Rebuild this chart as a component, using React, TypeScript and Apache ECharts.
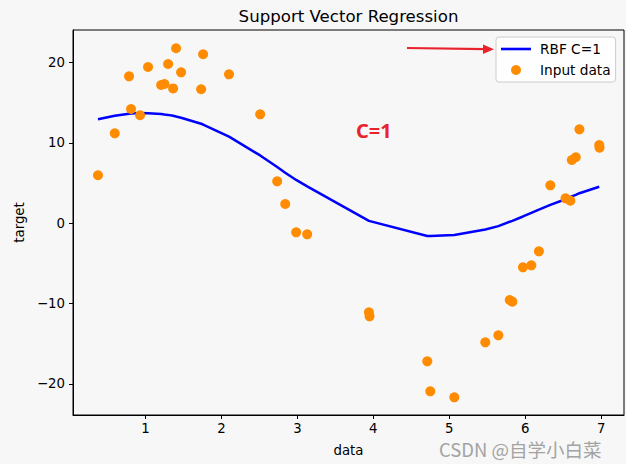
import React, { useEffect, useRef } from 'react';
import * as echarts from 'echarts';

const xData = [
  0.375, 0.596, 0.784, 0.81, 0.929, 1.034, 1.206, 1.25, 1.298, 1.364,
  1.403, 1.469, 1.733, 1.759, 2.1, 2.51, 2.734, 2.84, 2.984, 3.129,
  3.942, 3.95, 4.71, 4.75, 5.066, 5.474, 5.646, 5.796, 5.83, 5.97,
  6.08, 6.18, 6.33, 6.53, 6.594, 6.613, 6.665, 6.713, 6.974, 6.978,
];
const yData = [
  5.98, 11.2, 18.3, 14.23, 13.45, 19.46, 17.22, 17.35, 19.84, 16.8,
  21.8, 18.8, 16.69, 21.05, 18.55, 13.57, 5.23, 2.4, -1.12, -1.37,
  -11.08, -11.58, -17.19, -20.92, -21.67, -14.82, -13.95, -9.55, -9.76, -5.48,
  -5.23, -3.49, 4.73, 3.11, 2.82, 7.88, 8.22, 11.7, 9.75, 9.42,
];
const fitData = [
  12.95, 13.4, 13.65, 13.68, 13.72, 13.7, 13.6, 13.55, 13.5, 13.4,
  13.3, 13.15, 12.4, 12.3, 10.8, 8.45, 7.0, 6.3, 5.4, 4.6,
  0.3, 0.28, -1.58, -1.58, -1.46, -0.78, -0.35, 0.2, 0.3, 0.85,
  1.3, 1.7, 2.3, 3.0, 3.25, 3.35, 3.55, 3.75, 4.55, 4.56,
];
const xTicks = [1, 2, 3, 4, 5, 6, 7];
const yTicks = [-20, -10, 0, 10, 20];

const FONT = 'DejaVu Sans';

export default function App() {
  const ref = useRef<HTMLDivElement>(null);
  useEffect(() => {
    const chart = echarts.init(ref.current!, null, { renderer: 'svg' });
    const scatter = xData.map((x, i) => [x, yData[i]]);
    const line = xData.map((x, i) => [x, fitData[i]]);
    chart.setOption({
      animation: false,
      backgroundColor: '#f7f7f7',
      grid: {
        left: 73,
        right: 2,
        top: 30,
        bottom: 49,
        show: true,
        borderColor: '#000',
        borderWidth: 1,
        backgroundColor: 'transparent',
        containLabel: false,
      },
      xAxis: {
        type: 'value',
        min: 0.046,
        max: 7.3,
        name: 'data',
        nameLocation: 'middle',
        nameGap: 29,
        nameTextStyle: { fontFamily: FONT, fontSize: 13.3, color: '#000' },
        splitLine: { show: false },
        axisLine: { show: true, onZero: false, lineStyle: { color: '#000', width: 1 } },
        axisTick: { show: true, length: 4, lineStyle: { color: '#000' }, customValues: xTicks },
        axisLabel: { fontFamily: FONT, fontSize: 13.3, color: '#000', margin: 7, customValues: xTicks },
      },
      yAxis: {
        type: 'value',
        min: -23.87,
        max: 24.07,
        name: 'target',
        nameLocation: 'middle',
        nameGap: 46,
        nameTextStyle: { fontFamily: FONT, fontSize: 13.3, color: '#000' },
        splitLine: { show: false },
        axisLine: { show: true, onZero: false, lineStyle: { color: '#000', width: 1 } },
        axisTick: { show: true, length: 4, lineStyle: { color: '#000' }, customValues: yTicks },
        axisLabel: {
          fontFamily: FONT,
          fontSize: 13.3,
          color: '#000',
          margin: 8,
          customValues: yTicks,
          formatter: (v: number) => (v < 0 ? '\u2212' + Math.abs(v) : String(v)),
        },
      },
      legend: {
        orient: 'vertical',
        left: 496,
        top: 37,
        padding: [5, 5, 5, 5],
        itemWidth: 30,
        itemHeight: 10,
        itemGap: 7,
        backgroundColor: 'rgba(255,255,255,0.8)',
        borderColor: '#cccccc',
        borderWidth: 1,
        borderRadius: 3,
        textStyle: { fontFamily: FONT, fontSize: 13.7, color: '#000', padding: [0, 0, 0, 4] },
        data: [
          { name: 'RBF C=1', icon: 'path://M0,0h30v2.6h-30z', itemStyle: { color: '#0000ff' } },
          { name: 'Input data', icon: 'circle' },
        ],
      },
      series: [
        {
          name: 'RBF C=1',
          type: 'line',
          data: line,
          symbol: 'none',
          showSymbol: false,
          lineStyle: { color: '#0000ff', width: 2.5 },
          itemStyle: { color: '#0000ff' },
          z: 2,
        },
        {
          name: 'Input data',
          type: 'scatter',
          data: scatter,
          symbol: 'circle',
          symbolSize: 10,
          itemStyle: { color: '#ff8c00', opacity: 1 },
          z: 3,
        },
      ],
      graphic: [
        {
          type: 'text',
          x: 348.5,
          y: 16,
          style: {
            text: 'Support Vector Regression',
            fontFamily: FONT,
            fontSize: 16.6,
            fill: '#000',
            textAlign: 'center',
            textVerticalAlign: 'middle',
          },
        },
        {
          type: 'text',
          x: 356,
          y: 130,
          style: {
            text: 'C=1',
            fontFamily: 'Noto Sans',
            fontWeight: 'bold',
            fontSize: 20,
            fill: '#e8232d',
            textAlign: 'left',
            textVerticalAlign: 'middle',
          },
        },
        {
          type: 'line',
          shape: { x1: 407, y1: 48, x2: 486, y2: 49.2 },
          style: { stroke: '#e8232d', lineWidth: 2.2 },
        },
        {
          type: 'polygon',
          shape: { points: [[483, 44.5], [494, 49.3], [483, 54]] },
          style: { fill: '#e8232d' },
        },
        {
          type: 'text',
          x: 439,
          y: 449,
          style: {
            text: 'CSDN @自学小白菜',
            fontFamily: 'Noto Sans CJK SC',
            fontSize: 18.5,
            fill: '#a3a3a3',
            textAlign: 'left',
            textVerticalAlign: 'middle',
          },
        },
      ],
    });
    return () => chart.dispose();
  }, []);
  return (
    <div
      ref={ref}
      style={{ width: 626, height: 464, position: 'absolute', left: 0, top: 0 }}
    />
  );
}
